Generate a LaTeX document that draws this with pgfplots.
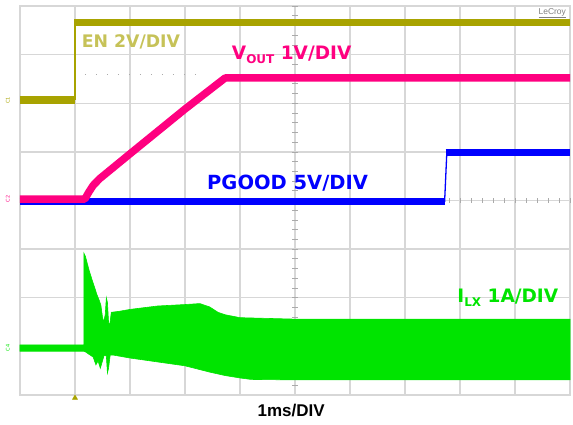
\documentclass[border=0pt]{standalone}
\usepackage{pgfplots}
\pgfplotsset{compat=1.18}
\usepackage{fontspec}
\setmainfont{DejaVu Sans}
\newfontfamily\arialf{Liberation Sans}
\definecolor{enc}{RGB}{168,163,0}
\definecolor{enl}{RGB}{198,194,88}
\definecolor{voc}{RGB}{255,0,128}
\definecolor{pgc}{RGB}{0,0,255}
\definecolor{ilc}{RGB}{0,228,0}
\definecolor{gridc}{RGB}{215,215,215}
\definecolor{tickc}{RGB}{170,170,170}
\begin{document}
\begin{tikzpicture}
\begin{axis}[
  scale only axis, width=550pt, height=389pt,
  xmin=0, xmax=10, ymin=0, ymax=8,
  xtick={0,...,10}, ytick={0,...,8},
  xticklabels={}, yticklabels={},
  major tick length=0pt,
  grid=major,
  major grid style={gridc, line width=1.3pt},
  axis line style={gridc, line width=1.5pt},
  clip=false,
]
% centre graticule ticks
\pgfplotsinvokeforeach{0.2,0.4,...,9.9}{
  \draw[tickc, line width=0.7pt] (axis cs:#1,3.95) -- (axis cs:#1,4.05);
}
\pgfplotsinvokeforeach{0.2,0.4,...,7.9}{
  \draw[tickc, line width=0.7pt] (axis cs:4.95,#1) -- (axis cs:5.05,#1);
}
% cursor dots
\addplot[tickc, line width=1pt, dash pattern=on 1.5pt off 9.5pt] coordinates {(1.18,6.6)(3.3,6.6)};

% I_LX (green band)
\addplot[fill=ilc, draw=ilc, line width=0.6pt] coordinates {
(0,1.03)(1.16,1.03)(1.16,2.92)(1.19,2.85)(1.22,2.72)(1.26,2.55)(1.31,2.37)(1.36,2.2)(1.40,2.06)(1.44,1.95)(1.47,1.85)
(1.50,1.6)(1.52,1.5)(1.55,1.65)(1.57,2.0)(1.59,1.9)(1.61,1.5)(1.63,1.42)(1.66,1.7)
(1.8,1.72)(2.0,1.76)(2.5,1.83)(3.0,1.86)(3.27,1.88)(3.45,1.81)(3.6,1.70)(3.73,1.65)(4.0,1.59)(5,1.56)(10,1.56)
(10,0.31)(5,0.31)(4.2,0.32)(4.0,0.35)(3.73,0.40)(3.45,0.47)(3.0,0.60)(2.5,0.68)(2.0,0.76)(1.7,0.82)
(1.64,0.82)(1.61,0.55)(1.59,0.45)(1.57,0.8)(1.53,0.82)(1.50,0.7)(1.46,0.55)(1.42,0.7)(1.38,0.62)(1.33,0.78)(1.25,0.84)(1.2,0.88)(1.16,0.90)(0,0.90)
} -- cycle;

% PGOOD
\addplot[pgc, line width=7pt] coordinates {(0,3.97)(7.72,3.97)};
\addplot[pgc, line width=1.3pt] coordinates {(7.72,3.97)(7.76,4.98)};
\addplot[pgc, line width=7pt] coordinates {(7.74,4.98)(10,4.98)};

% VOUT
\addplot[voc, line width=7.5pt, line join=round] coordinates {
(0,4.03)(1.18,4.03)(1.25,4.17)(1.33,4.31)(1.45,4.45)(2.0,4.96)(3.0,5.88)(3.73,6.52)(10,6.52)};

% EN
\addplot[enc, line width=8pt] coordinates {(0,6.06)(1.0,6.06)};
\addplot[enc, line width=1.3pt] coordinates {(1.0,6.06)(1.0,7.67)};
\addplot[enc, line width=7pt] coordinates {(0.99,7.67)(10,7.67)};

% trigger marker
\addplot[only marks, mark=triangle*, mark size=3pt, color=enc] coordinates {(1.0,-0.06)};

% labels
\node[anchor=west, text=enl, font=\fontsize{17.3}{20}\selectfont\bfseries, inner sep=0pt] at (axis cs:1.12,7.26) {EN 2V/DIV};
\node[anchor=west, text=voc, font=\fontsize{18.5}{20}\selectfont\bfseries, inner sep=0pt] at (axis cs:3.85,7.0) {V\raisebox{-0.35ex}{\fontsize{12}{12}\selectfont OUT} 1V/DIV};
\node[anchor=west, text=pgc, font=\fontsize{19.5}{20}\selectfont\bfseries, inner sep=0pt] at (axis cs:3.4,4.36) {PGOOD 5V/DIV};
\node[anchor=west, text=ilc, font=\fontsize{18.5}{20}\selectfont\bfseries, inner sep=0pt] at (axis cs:7.95,2.0) {I\raisebox{-0.35ex}{\fontsize{12}{12}\selectfont LX} 1A/DIV};
\node[text=black, font=\arialf\fontsize{17}{20}\selectfont\bfseries, inner sep=0pt] at (axis cs:4.93,-0.31) {1ms/DIV};
\node[anchor=east, text=gray, font=\arialf\fontsize{8.5}{10}\selectfont, inner sep=0pt] at (axis cs:9.93,7.85) {\underline{LeCroy}};
% channel markers
\node[text=enc, rotate=90, font=\fontsize{5}{6}\selectfont, inner sep=0pt] at (axis cs:-0.22,6.06) {C1};
\node[text=voc, rotate=90, font=\fontsize{5}{6}\selectfont, inner sep=0pt] at (axis cs:-0.22,4.03) {C2};
\node[text=ilc, rotate=90, font=\fontsize{5}{6}\selectfont, inner sep=0pt] at (axis cs:-0.22,0.97) {C4};
\end{axis}
\pgfresetboundingbox
\path[use as bounding box] ([xshift=-20pt,yshift=-30pt]current axis.south west) rectangle ([xshift=3pt,yshift=6pt]current axis.north east);
\end{tikzpicture}
\end{document}
